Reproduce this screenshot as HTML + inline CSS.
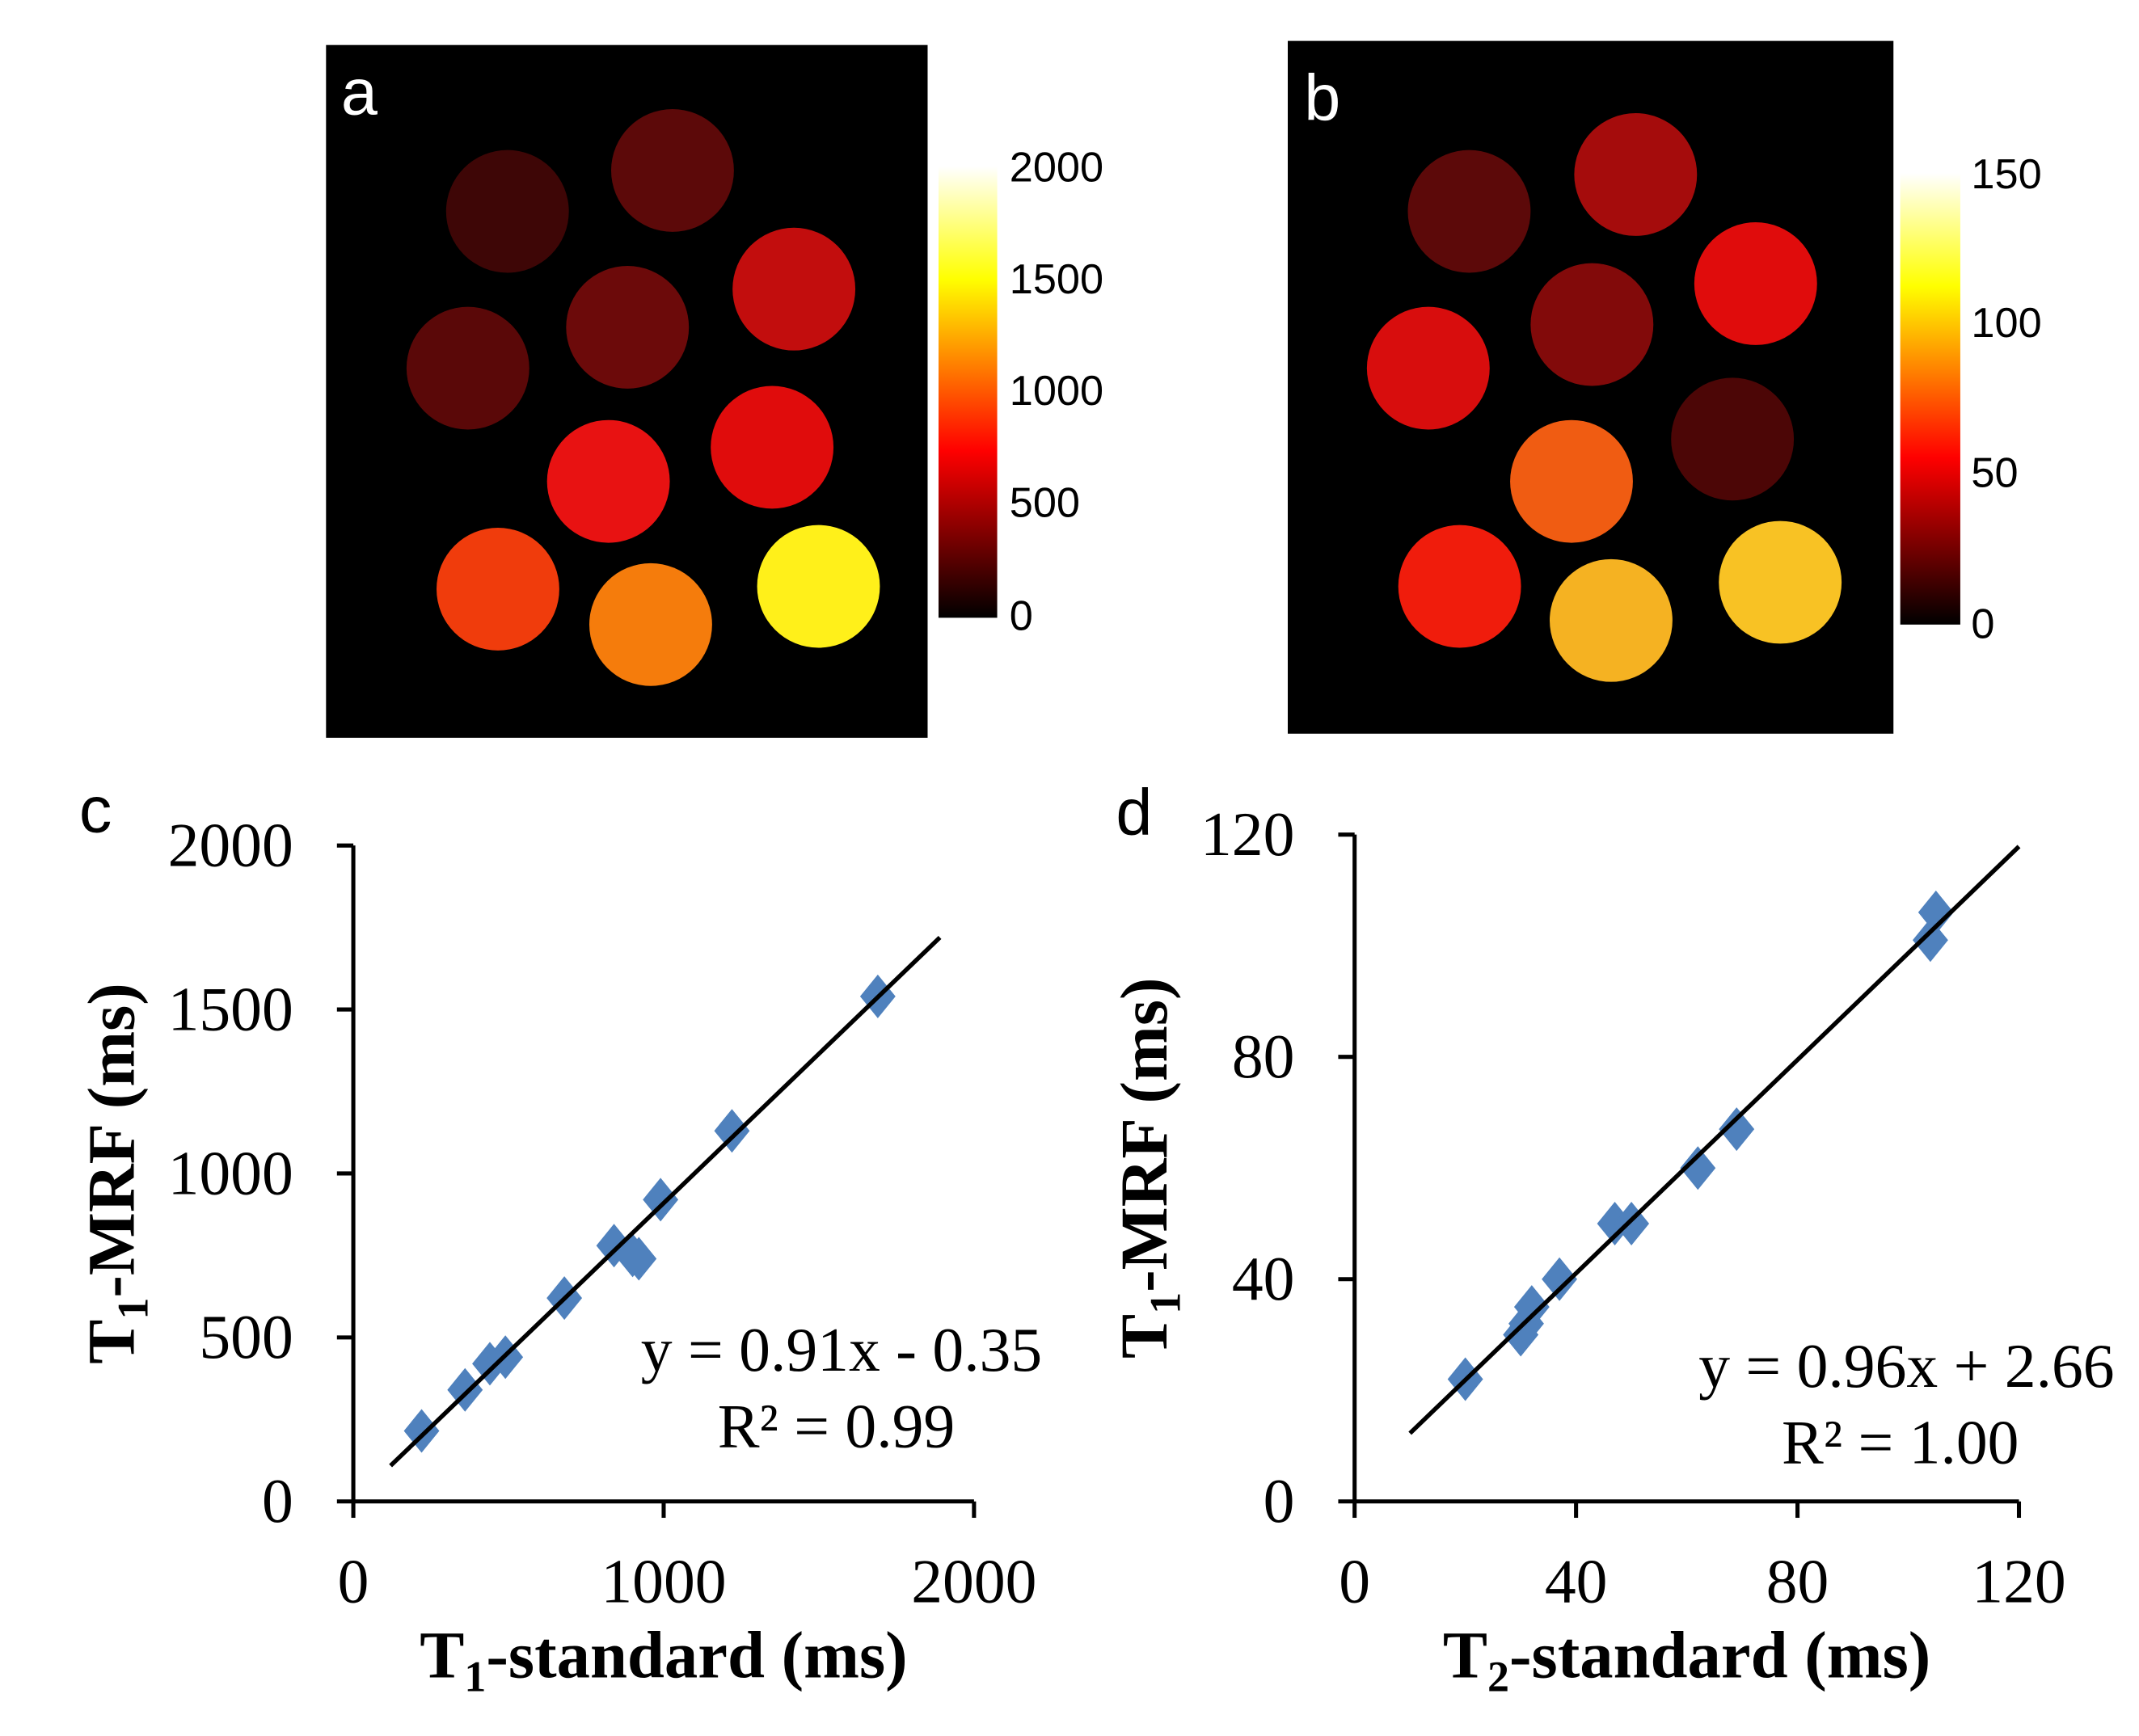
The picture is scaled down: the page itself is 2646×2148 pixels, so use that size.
<!DOCTYPE html>
<html><head><meta charset="utf-8"><style>
html,body{margin:0;padding:0;background:#fff;}
svg{display:block;}
.tk{font-family:"Liberation Sans",Arial,sans-serif;font-size:31px;fill:#000;}
.ax{font-family:"Liberation Serif","Times New Roman",serif;font-size:46px;fill:#000;}
.tt{font-family:"Liberation Serif","Times New Roman",serif;font-size:49px;font-weight:bold;fill:#000;}
.pl{font-family:"Liberation Sans",Arial,sans-serif;font-size:48px;}
</style></head><body>
<svg id="fig" width="2646" height="2148" viewBox="0 0 1568 1273" preserveAspectRatio="none" xmlns="http://www.w3.org/2000/svg">
<defs>
<linearGradient id="hot" x1="0" y1="1" x2="0" y2="0">
<stop offset="0" stop-color="#000"/><stop offset="0.37" stop-color="#ff0000"/><stop offset="0.75" stop-color="#ffff00"/><stop offset="1" stop-color="#fff"/>
</linearGradient>
</defs>
<g id="panelA">
<rect x="239" y="33" width="441" height="508" fill="#000"/>
<text class="pl" x="250" y="84" fill="#fff">a</text>
<rect x="688" y="122" width="43" height="331" fill="url(#hot)"/>
<text class="tk" x="740" y="133">2000</text>
<text class="tk" x="740" y="215">1500</text>
<text class="tk" x="740" y="297">1000</text>
<text class="tk" x="740" y="379">500</text>
<text class="tk" x="740" y="462">0</text>
</g>
<g id="panelB">
<rect x="944" y="30" width="444" height="508" fill="#000"/>
<text class="pl" x="956" y="88" fill="#fff">b</text>
<rect x="1393" y="127" width="44" height="331" fill="url(#hot)"/>
<text class="tk" x="1445" y="138">150</text>
<text class="tk" x="1445" y="247">100</text>
<text class="tk" x="1445" y="357">50</text>
<text class="tk" x="1445" y="468">0</text>
</g>
<g id="chartC"></g>
<g id="chartD"></g>
</svg>
<script>
const NS="http://www.w3.org/2000/svg";
// phantom vial maps
const vialAX=[372,493,582,460,343,566,446,365,477,600];
const vialAY=[155,125,212,240,270,328,353,432,458,430];
const vialAColor=["#3e0606","#5c0909","#c20d0d","#6c0a0a","#5a0808","#e00c0c","#e81212","#f03c0c","#f57c0c","#fff01a"];
const vialBX=[1077,1199,1287,1167,1047,1270,1152,1070,1181,1305];
const vialBY=[155,128,208,238,270,322,353,430,455,427];
const vialBColor=["#5c0909","#a50c0c","#e00c0c","#820a0a","#d80d0d","#4c0606","#f05c12","#f01c0c","#f5b222","#f8c224"];
// chart c data (T1)
const t1Std=[220,360,440,490,680,840,900,920,990,1220,1690];
const t1Mrf=[215,340,420,440,620,780,750,740,920,1130,1540];
const t1Ticks=[0,500,1000,1500,2000];
const t1XTicks=[0,1000,2000];
// chart d data (T2)
const t2Std=[20,30,31,32,37,47,50,62,69,104,105];
const t2Mrf=[22,30,32,35,40,50,50,60,67,101,106];
const t2Ticks=[0,40,80,120];
const t2XTicks=[0,40,80,120];

function el(tag,attrs,parent,txt){const e=document.createElementNS(NS,tag);for(const k in attrs)e.setAttribute(k,attrs[k]);if(txt!==undefined)e.textContent=txt;parent.appendChild(e);return e;}

function vials(xs,ys,cs,parent,prefix){
  for(let i=0;i<xs.length;i++){
    const c=el('circle',{cx:xs[i],cy:ys[i],r:45,fill:cs[i]},parent);
    
    
  }
}
vials(vialAX,vialAY,vialAColor,document.getElementById('panelA'),'t1');
vials(vialBX,vialBY,vialBColor,document.getElementById('panelB'),'t2');

function chart(g,o){
  const sx=v=>o.x0+(v-o.xmin)/(o.xmax-o.xmin)*(o.x1-o.x0);
  const sy=v=>o.y0-(v-o.ymin)/(o.ymax-o.ymin)*(o.y0-o.y1);
  const a1=el('line',{x1:o.x0,y1:o.y0,x2:o.x0,y2:o.y1,stroke:'#000','stroke-width':3},g);
  
  const a2=el('line',{x1:o.x0,y1:o.y0,x2:o.x1,y2:o.y0,stroke:'#000','stroke-width':3},g);
  
  o.yt.forEach(v=>{
    el('line',{x1:o.x0-12,y1:sy(v),x2:o.x0,y2:sy(v),stroke:'#000','stroke-width':3},g);
    const t=el('text',{class:'ax',x:o.x0-44,y:sy(v)+15,'text-anchor':'end'},g,String(v));
    
  });
  o.xt.forEach(v=>{
    el('line',{x1:sx(v),y1:o.y0,x2:sx(v),y2:o.y0+12,stroke:'#000','stroke-width':3},g);
    const t=el('text',{class:'ax',x:sx(v),y:o.y0+74,'text-anchor':'middle'},g,String(v));
    
  });
  for(let i=0;i<o.xs.length;i++){
    const px=sx(o.xs[i]),py=sy(o.ys[i]);
    const p=el('polygon',{points:`${px},${py-16} ${px+13},${py} ${px},${py+16} ${px-13},${py}`,fill:'#4f81bd'},g);
    
  }
  const ln=el('line',{x1:sx(o.f0),y1:sy(o.m*o.f0+o.b),x2:sx(o.f1),y2:sy(o.m*o.f1+o.b),stroke:'#000','stroke-width':3.2},g);
  
  const pl=el('text',{class:'pl',x:o.lx,y:o.ly,fill:'#000'},g,o.label);
  
  const yt=el('text',{class:'tt',transform:`translate(${o.ytx},${(o.y0+o.y1)/2}) rotate(-90)`,'text-anchor':'middle'},g);
  
  el('tspan',{},yt,'T');el('tspan',{dy:10,'font-size':32},yt,'1');el('tspan',{dy:-10},yt,'-MRF (ms)');
  const xt=el('text',{class:'tt',x:(o.x0+o.x1)/2,y:1230,'text-anchor':'middle'},g);
  
  el('tspan',{},xt,'T');el('tspan',{dy:10,'font-size':32},xt,o.sub);el('tspan',{dy:-10},xt,'-standard (ms)');
  const e1=el('text',{class:'ax',x:o.ex,y:o.ey,'text-anchor':'end','font-size':53},g,o.eq);
  
  const e2=el('text',{class:'ax',x:o.rx,y:o.ey+56,'text-anchor':'end','font-size':53},g,o.r2);
  
}
chart(document.getElementById('chartC'),{x0:259,x1:714,y0:1101,y1:620,xmin:0,xmax:2000,ymin:0,ymax:2000,
  yt:t1Ticks,xt:t1XTicks,xs:t1Std,ys:t1Mrf,m:0.91,b:-0.35,f0:120,f1:1890,label:'c',lx:58,ly:610,ytx:98,sub:'1',
  eq:'y = 0.91x - 0.35',r2:'R² = 0.99',ex:764,ey:1005,rx:700});
chart(document.getElementById('chartD'),{x0:993,x1:1480,y0:1101,y1:612,xmin:0,xmax:120,ymin:0,ymax:120,
  yt:t2Ticks,xt:t2XTicks,xs:t2Std,ys:t2Mrf,m:0.96,b:2.66,f0:10,f1:120,label:'d',lx:818,ly:612,ytx:855,sub:'2',
  eq:'y = 0.96x + 2.66',r2:'R² = 1.00',ex:1550,ey:1017,rx:1480});
</script>
</body></html>
